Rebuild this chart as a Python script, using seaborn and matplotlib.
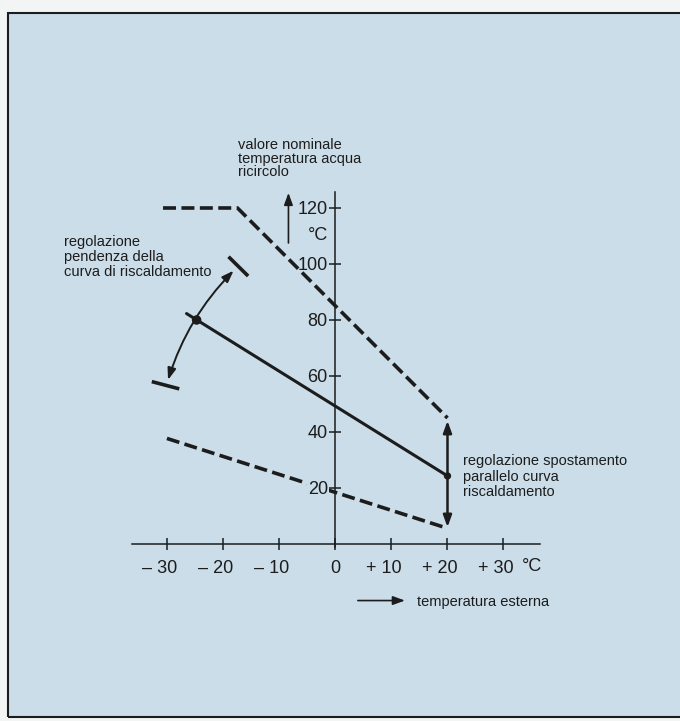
import seaborn as sns
import pandas as pd
import matplotlib.pyplot as plt
from matplotlib.patches import Rectangle, FancyArrowPatch
from matplotlib.transforms import ScaledTranslation

sns.set_style("white")
plt.rcParams['font.family'] = ['Liberation Sans', 'DejaVu Sans']

# heating curve: outdoor temperature (°C) -> flow water set point (°C)
upper_x = [-30.8, -17.5, 20.0]
upper_y = [120.0, 120.0, 45.0]
main_x = [-26.6, 20.0]
main_y = [82.3, 24.3]
lower_x = [-30.1, 20.0]
lower_y = [37.7, 5.6]
dots_x = [-24.8, 20.0]
dots_y = [80.0, 24.3]
shift_range = [6.0, 44.0]

x_ticks = [-30, -20, -10, 0, 10, 20, 30]
x_labels = ['– 30', '– 20', '– 10', '0', '+ 10', '+ 20', '+ 30']
y_ticks = [20, 40, 60, 80, 100, 120]

curves = pd.concat([
    pd.DataFrame({'x': upper_x, 'y': upper_y, 'curve': 'max'}),
    pd.DataFrame({'x': main_x, 'y': main_y, 'curve': 'main'}),
    pd.DataFrame({'x': lower_x, 'y': lower_y, 'curve': 'min'}),
])

W, H = 680, 721
INK = '#1c1c1c'
BG = '#cbdde9'
fig = plt.figure(figsize=(W / 100, H / 100), dpi=100)
fig.patch.set_facecolor('#f3f5f5')
ax = fig.add_axes([8 / W, 4 / H, 672 / W, 704 / H])
ax.set_facecolor(BG)
ax.set_xlim(-58.48, 61.52)
ax.set_ylim(-61.79, 189.64)
ax.set_axisbelow(False)

# dashed limit curves and the solid heating curve
for name, ls, lw in [('max', (0, (3.6, 1.5)), 2.6), ('min', (0, (3.6, 1.5)), 2.6), ('main', '-', 2.2)]:
    sns.lineplot(data=curves[curves.curve == name], x='x', y='y', ax=ax, color=INK,
                 linewidth=lw, linestyle=ls, sort=False, errorbar=None)
ax.scatter(dots_x, dots_y, s=[34, 18], color=INK, zorder=5)

# axes through the origin
for side in ['top', 'right']:
    ax.spines[side].set_visible(False)
ax.spines['left'].set_position(('data', 0))
ax.spines['bottom'].set_position(('data', 0))
ax.spines['left'].set_bounds(-1, 125.7)
ax.spines['bottom'].set_bounds(-36.3, 36.5)
for side in ['left', 'bottom']:
    ax.spines[side].set_linewidth(1.1)
    ax.spines[side].set_color(INK)
ax.tick_params(axis='x', bottom=True, direction='inout', length=8, width=1.1, pad=7.5,
               labelsize=13, colors=INK)
ax.tick_params(axis='y', left=True, direction='inout', length=8.6, width=1.1, pad=1.2,
               labelsize=13, colors=INK)
ax.set_xticks(x_ticks, x_labels)
ax.set_yticks(y_ticks)
ax.set_xlabel('')
ax.set_ylabel('')
for lab in ax.get_xticklabels():
    if lab.get_text() != '0':
        lab.set_horizontalalignment('right')
        lab.set_transform(lab.get_transform() + ScaledTranslation(7.2 / 72, 0, fig.dpi_scale_trans))
# the lower dashed curve is interrupted behind the "20" label
ax.get_yticklabels()[0].set_bbox(dict(facecolor=BG, edgecolor='none', pad=0.6))

ax.text(-1.35, 110, '°C', fontsize=13, color=INK, ha='right', va='center')
ax.text(33.3, -8.1, '°C', fontsize=13, color=INK, ha='left', va='center')

# parallel shift arrow
ax.annotate('', xy=(20, shift_range[1]), xytext=(20, shift_range[0]),
            arrowprops=dict(arrowstyle='<|-|>,head_length=0.5,head_width=0.18', color=INK,
                            lw=1.8, shrinkA=0, shrinkB=0, mutation_scale=14))

# slope adjustment arc with end bars
ax.add_patch(FancyArrowPatch((-29.9, 58.6), (-18.2, 97.6), arrowstyle='<|-|>,head_length=0.5,head_width=0.18',
                             connectionstyle='arc3,rad=-0.12', color=INK, lw=1.4,
                             shrinkA=0, shrinkB=0, mutation_scale=14))
ax.plot([-19.1, -15.6], [102.6, 95.7], color=INK, lw=2.6, solid_capstyle='butt')
ax.plot([-32.8, -27.9], [58.0, 55.4], color=INK, lw=2.6, solid_capstyle='butt')

# axis direction arrows
ax.annotate('', xy=(-8.4, 125.4), xytext=(-8.4, 107.5),
            arrowprops=dict(arrowstyle='-|>,head_length=0.6,head_width=0.22', color=INK,
                            lw=1.2, shrinkA=0, shrinkB=0, mutation_scale=12))
ax.annotate('', xy=(12.4, -20.2), xytext=(4.0, -20.2),
            arrowprops=dict(arrowstyle='-|>,head_length=0.6,head_width=0.22', color=INK,
                            lw=1.2, shrinkA=0, shrinkB=0, mutation_scale=12))

# annotations
notes = [
    (-17.36, [141.0, 136.2, 131.4], ['valore nominale', 'temperatura acqua', 'ricircolo']),
    (-48.5, [106.3, 101.0, 95.7], ['regolazione', 'pendenza della', 'curva di riscaldamento']),
    (22.8, [28.2, 22.6, 17.1], ['regolazione spostamento', 'parallelo curva', 'riscaldamento']),
    (14.5, [-22.0], ['temperatura esterna']),
]
for x0, ys, lines in notes:
    for yy, line in zip(ys, lines):
        ax.text(x0, yy, line, fontsize=10.5, color=INK, ha='left', va='baseline')

# page frame
fig.add_artist(Rectangle((8 / W, 4 / H), 680 / W, 704 / H, fill=False, ec=INK, lw=1.5,
                         transform=fig.transFigure))

fig.savefig('out.png', dpi=100, facecolor=fig.get_facecolor())
